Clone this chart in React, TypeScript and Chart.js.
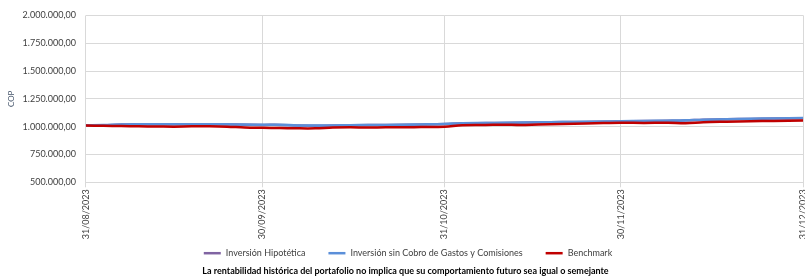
import React, { useEffect, useRef } from "react";
import { Chart, registerables } from "chart.js";

Chart.register(...registerables);

const dates = [
  "2023-08-31", "2023-09-03", "2023-09-06", "2023-09-09", "2023-09-12", "2023-09-15",
  "2023-09-18", "2023-09-21", "2023-09-24", "2023-09-27", "2023-09-30", "2023-10-03",
  "2023-10-06", "2023-10-09", "2023-10-12", "2023-10-15", "2023-10-18", "2023-10-21",
  "2023-10-24", "2023-10-27", "2023-10-31", "2023-11-03", "2023-11-07", "2023-11-10",
  "2023-11-13", "2023-11-16", "2023-11-20", "2023-11-24", "2023-11-27", "2023-11-30",
  "2023-12-04", "2023-12-08", "2023-12-11", "2023-12-14", "2023-12-18", "2023-12-22",
  "2023-12-26", "2023-12-31",
];

const inversionHipotetica = [
  1011000, 1013000, 1019000, 1021000, 1021000, 1021000,
  1021000, 1021000, 1020000, 1018000, 1016000, 1016000,
  1010000, 1009000, 1010000, 1012000, 1014000, 1015000,
  1017000, 1019000, 1023000, 1030000, 1032000, 1034000,
  1036000, 1038000, 1041000, 1043000, 1045000, 1048000,
  1050000, 1053000, 1056000, 1062000, 1066000, 1070000,
  1073000, 1076000,
];

const inversionSinCobro = [
  1012000, 1014000, 1020000, 1022000, 1022000, 1022000,
  1022000, 1022000, 1021000, 1019000, 1017000, 1017000,
  1011000, 1010000, 1011000, 1013000, 1015000, 1016000,
  1018000, 1020000, 1024000, 1031000, 1033000, 1035000,
  1037000, 1039000, 1042000, 1044000, 1046000, 1049000,
  1051000, 1054000, 1057000, 1063000, 1067000, 1071000,
  1074000, 1077000,
];

const benchmark = [
  1010000, 1008000, 1005000, 1003000, 1002000, 1000000,
  1003000, 1003000, 1000000, 993000, 990000, 988000,
  985000, 985000, 992000, 994000, 992000, 995000,
  994000, 997000, 1000000, 1013000, 1015000, 1018000,
  1015000, 1020000, 1025000, 1029000, 1032000, 1035000,
  1034000, 1036000, 1031000, 1040000, 1045000, 1049000,
  1052000, 1055000,
];

const monthEnds = ["2023-08-31", "2023-09-30", "2023-10-31", "2023-11-30", "2023-12-31"];

const yMin = 500000;
const yMax = 2000000;
const yStep = 250000;

const seriesNames = [
  "Inversión Hipotética",
  "Inversión sin Cobro de Gastos y Comisiones",
  "Benchmark",
];
const seriesColors = ["#8064A2", "#5B8FD9", "#C00000"];
const axisTitle = "COP";
const footnote =
  "La rentabilidad histórica del portafolio no implica que su comportamiento futuro sea igual o semejante";

const DAY = 86400000;
const toUTC = (s: string) => {
  const [y, m, d] = s.split("-").map(Number);
  return Date.UTC(y, m - 1, d);
};
const base = toUTC(dates[0]);
const dayIndex = (s: string) => Math.round((toUTC(s) - base) / DAY);

const fmtDate = (idx: number) => {
  const d = new Date(base + idx * DAY);
  const dd = String(d.getUTCDate()).padStart(2, "0");
  const mm = String(d.getUTCMonth() + 1).padStart(2, "0");
  return `${dd}/${mm}/${d.getUTCFullYear()}`;
};

const fmtNum = (v: number) => {
  const s = Math.round(v).toString().replace(/\B(?=(\d{3})+(?!\d))/g, ".");
  return s + ",00";
};

const FONT = "Lato, 'Open Sans', sans-serif";

// Custom centred legend drawn in the reserved space above the footnote
const customLegend = {
  id: "customLegend",
  afterDraw(chart: any) {
    const ctx = chart.ctx;
    const font = `9px ${FONT}`;
    const lineW = 17;
    const textGap = 5;
    const itemGap = 23;
    ctx.save();
    ctx.font = font;
    const items = chart.data.datasets.map((ds: any) => ({
      label: ds.label as string,
      color: ds.borderColor as string,
      w: lineW + textGap + ctx.measureText(ds.label).width,
    }));
    const total = items.reduce((s: number, it: any) => s + it.w, 0) + itemGap * (items.length - 1);
    let x = chart.width / 2 - total / 2;
    const y = chart.scales.x.bottom + 12;
    ctx.textBaseline = "middle";
    ctx.textAlign = "left";
    items.forEach((it: any) => {
      ctx.strokeStyle = it.color;
      ctx.lineWidth = 2.5;
      ctx.beginPath();
      ctx.moveTo(x, y);
      ctx.lineTo(x + lineW, y);
      ctx.stroke();
      ctx.fillStyle = "#404040";
      ctx.fillText(it.label, x + lineW + textGap, y);
      x += it.w + itemGap;
    });
    ctx.restore();
  },
};

export default function App() {
  const ref = useRef<HTMLCanvasElement | null>(null);

  useEffect(() => {
    document.body.style.margin = "0";
    const canvas = ref.current;
    if (!canvas) return;
    const mk = (vals: number[]) => dates.map((d, i) => ({ x: dayIndex(d), y: vals[i] }));
    const tickVals = monthEnds.map(dayIndex);
    const series = [inversionHipotetica, inversionSinCobro, benchmark];
    const orders = [2, 1, 0];

    const chart = new Chart(canvas, {
      type: "line",
      data: {
        datasets: series.map((vals, i) => ({
          label: seriesNames[i],
          data: mk(vals),
          borderColor: seriesColors[i],
          backgroundColor: seriesColors[i],
          borderWidth: 2.5,
          pointRadius: 0,
          tension: 0.35,
          order: orders[i],
        })),
      },
      options: {
        responsive: false,
        animation: false,
        layout: { padding: { top: 10, right: 12, left: 7, bottom: 0 } },
        scales: {
          x: {
            type: "linear",
            min: tickVals[0],
            max: tickVals[tickVals.length - 1],
            afterBuildTicks: (axis: any) => {
              axis.ticks = tickVals.map((v) => ({ value: v }));
            },
            ticks: {
              autoSkip: false,
              maxRotation: 90,
              minRotation: 90,
              color: "#404040",
              font: { family: FONT, size: 9 },
              padding: 2,
              callback: (v: any) => fmtDate(Number(v)),
            },
            grid: { color: "#D9D9D9", tickLength: 5, lineWidth: 1 },
            border: { display: false },
          },
          y: {
            min: yMin,
            max: yMax,
            ticks: {
              stepSize: yStep,
              color: "#404040",
              font: { family: FONT, size: 9 },
              padding: 10,
              callback: (v: any) => fmtNum(Number(v)),
            },
            grid: { color: "#D9D9D9", lineWidth: 1, drawTicks: false },
            border: { display: false },
            title: {
              display: true,
              text: axisTitle,
              color: "#44546A",
              font: { family: FONT, size: 8 },
              padding: { top: 0, bottom: -4 },
            },
          },
        },
        plugins: {
          legend: { display: false },
          title: {
            display: true,
            position: "bottom",
            text: footnote,
            color: "#000000",
            font: { family: FONT, size: 9, weight: "bold" },
            padding: { top: 24, bottom: 4 },
          },
          tooltip: { enabled: false },
        },
      },
      plugins: [customLegend],
    } as any);
    return () => chart.destroy();
  }, []);

  return (
    <div style={{ width: 805, height: 280, overflow: "hidden", position: "relative", background: "#fff" }}>
      <canvas ref={ref} width={816} height={280} style={{ display: "block", width: 816, height: 280 }} />
    </div>
  );
}
